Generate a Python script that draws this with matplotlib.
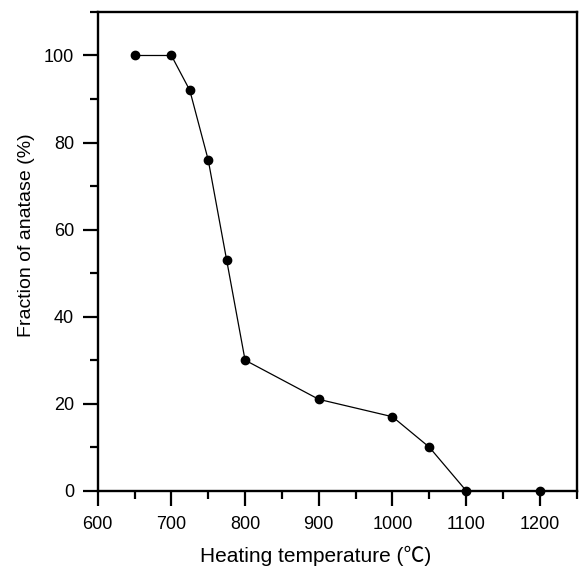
import matplotlib
matplotlib.use("Agg")
import matplotlib.pyplot as plt
from matplotlib.ticker import MultipleLocator

temperature = [650, 700, 725, 750, 775, 800, 900, 1000, 1050, 1100, 1200]
anatase = [100, 100, 92, 76, 53, 30, 21, 17, 10, 0, 0]

plt.rcParams['font.family'] = ['Liberation Sans', 'Noto Sans CJK SC', 'DejaVu Sans']

fig = plt.figure(figsize=(5.8, 5.7), dpi=100)
ax = fig.add_axes([0.1684, 0.1391, 0.9943 - 0.1684, 0.979 - 0.1391])
ax.plot(temperature, anatase, color='black', lw=0.9, marker='o', ms=6,
        mfc='black', mec='black', clip_on=False, zorder=3)
ax.set_xlim(600, 1250)
ax.set_ylim(0, 110)
ax.xaxis.set_major_locator(MultipleLocator(100))
ax.xaxis.set_minor_locator(MultipleLocator(50))
ax.yaxis.set_major_locator(MultipleLocator(20))
ax.yaxis.set_minor_locator(MultipleLocator(10))
ax.tick_params(which='both', direction='out', top=False, right=False,
               labelsize=13, width=1.6)
ax.tick_params(which='major', length=11)
ax.tick_params(axis='x', which='major', pad=7)
ax.tick_params(axis='y', which='major', pad=6)
ax.tick_params(which='minor', length=6)
for s in ax.spines.values():
    s.set_linewidth(1.7)
ax.set_xlabel('Heating temperature (\u2103)', fontsize=15)
ax.set_ylabel('Fraction of anatase (%)', fontsize=14)
ax.xaxis.set_label_coords(0.456, -0.116)
ax.yaxis.set_label_coords(-0.131, 0.533)
fig.savefig('out.png', dpi=100)
